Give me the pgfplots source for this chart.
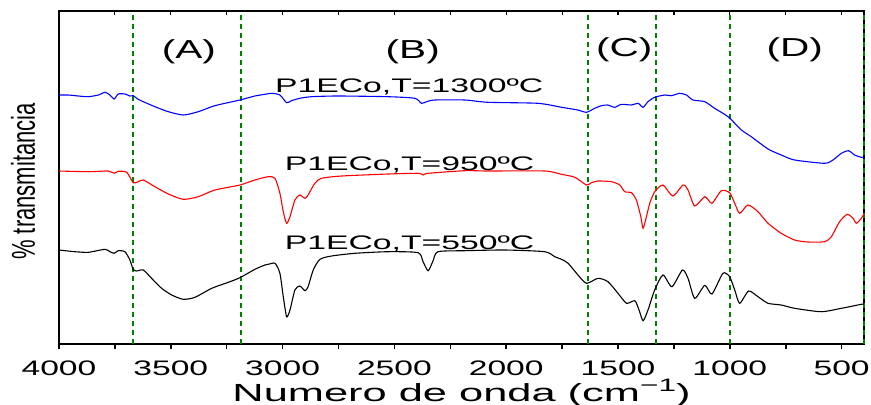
\documentclass[border=0pt]{standalone}
\usepackage{fontspec}
\setmainfont{Liberation Sans}
\usepackage{pgfplots}
\pgfplotsset{compat=1.18}
\definecolor{vgreen}{RGB}{0,128,0}
% text in the reference is stretched sideways
\newcommand{\tk}[1]{\scalebox{1.6}[1]{#1}}
\newcommand{\lab}[1]{\scalebox{1.72}[1]{\fontsize{9.8}{11}\selectfont #1}}
\newcommand{\reg}[1]{\scalebox{1.56}[1]{\fontsize{13}{15}\selectfont #1}}

\begin{document}
\begin{tikzpicture}
\begin{axis}[
    width=402.5pt, height=166.5pt, scale only axis,
    xmin=400, xmax=4000, x dir=reverse,
    ymin=0, ymax=333,
    clip=false,
    axis line style={line width=1pt},
    ytick=\empty,
    xtick={500,1000,1500,2000,2500,3000,3500,4000},
    xticklabels={\tk{500},\tk{1000},\tk{1500},\tk{2000},\tk{2500},\tk{3000},\tk{3500},\tk{4000}},
    minor x tick num=1,
    xtick pos=bottom, tick align=outside,
    major tick length=2.5pt, minor tick length=2.5pt,
    tick style={line width=0.8pt, black},
    xticklabel style={font=\fontsize{10.5}{12}\selectfont, anchor=base, yshift=-13.3pt},
]
% region borders
\addplot[vgreen, line width=1pt, dash pattern=on 2.5pt off 2pt] coordinates {(3670,0) (3670,333)};
\addplot[vgreen, line width=1pt, dash pattern=on 2.5pt off 2pt] coordinates {(3186,0) (3186,333)};
\addplot[vgreen, line width=1pt, dash pattern=on 2.5pt off 2pt] coordinates {(1635,0) (1635,333)};
\addplot[vgreen, line width=1pt, dash pattern=on 2.5pt off 2pt] coordinates {(1331,0) (1331,333)};
\addplot[vgreen, line width=1pt, dash pattern=on 2.5pt off 2pt] coordinates {(1001,0) (1001,333)};
\addplot[vgreen, line width=1pt, dash pattern=on 2.5pt off 2pt] coordinates {(402,0) (402,333)};

% T = 1300 C
\addplot[blue, line width=0.55pt, smooth, tension=0.4] coordinates {
(4000,249) (3958,249) (3914,248) (3869,247.3) (3824,249) (3794,251.7) (3772,249) (3753,245) (3735,250) (3705,250)
(3683,248) (3668,248.3) (3646,244.7) (3623,242.3) (3571,237.3) (3511,232.3) (3444,229) (3377,232.3) (3303,238.3)
(3191,244) (3124,248) (3079,249.7) (3049,250.7) (3012,249) (2982,241.3) (2960,243.3) (2923,245.7) (2870,247.3)
(2753,248) (2529,247.3) (2409,245.7) (2379,240.7) (2356,242.3) (2319,244) (2185,244) (2082,241.7) (1859,240.7)
(1752,236.7) (1680,234) (1641,231.7) (1604,235.7) (1574,238.3) (1546,239) (1515,236.7) (1485,239.7) (1440,239)
(1410,240.7) (1388,236.7) (1366,242.3) (1336,246.7) (1291,249) (1261,248.3) (1224,250.7) (1194,249) (1165,244)
(1112,242.3) (1068,235.7) (1008,227.3) (948,214) (904,207.3) (829,195) (770,189) (710,184) (576,180.7) (539,184)
(501,190.7) (469,193.3) (442,189) (412,186.7) (400,186.5)
};
% T = 950 C
\addplot[red, line width=0.55pt, smooth, tension=0.4] coordinates {
(4000,173) (3869,172.3) (3780,173) (3753,170.7) (3735,172.7) (3697,171.7) (3668,161.3) (3646,162.3) (3623,164)
(3571,157.3) (3511,150) (3444,144.7) (3377,147.3) (3303,154) (3191,159) (3124,164) (3064,167.3) (3034,165.7)
(3012,150.7) (2997,132.3) (2982,120.7) (2967,127.3) (2945,144) (2923,149) (2900,145.7) (2886,149) (2856,160.7)
(2826,165.7) (2736,168) (2528,170) (2394,170.7) (2372,169) (2349,170.7) (2185,173.3) (2081,173) (1828,173)
(1753,169.7) (1693,166.7) (1641,159) (1619,161.3) (1589,163) (1529,162.3) (1492,159) (1470,152.3) (1440,151.3)
(1418,144) (1398,127.3) (1388,115.7) (1373,127.3) (1358,140.7) (1336,152.3) (1299,159) (1255,148) (1209,159)
(1187,154) (1157,138) (1112,147.3) (1080,140.7) (1038,153.3) (1001,151.3) (978,140.7) (956,130.7) (919,139)
(874,132.3) (829,120.7) (770,110.7) (710,104) (651,102) (576,102.3) (546,107.3) (509,122.3) (475,129.7)
(449,125.7) (434,120.7) (412,125.7) (400,130)
};
% T = 550 C
\addplot[black, line width=0.55pt, smooth, tension=0.4] coordinates {
(4000,94) (3928,92.3) (3869,91.7) (3794,94.7) (3772,92.3) (3753,90.7) (3735,93.3) (3705,92.3) (3683,84) (3668,74.7)
(3653,73) (3623,74) (3586,65.7) (3541,55.7) (3496,49) (3444,44.7) (3392,46.7) (3317,55.7) (3243,61.7) (3191,66.3)
(3124,74.7) (3079,79) (3064,79.7) (3034,80.7) (3012,70.7) (2997,47.3) (2982,27.3) (2967,34) (2945,54) (2923,58)
(2900,53.3) (2886,57.3) (2863,74) (2833,84.7) (2781,88) (2677,90.7) (2528,92.3) (2394,91.3) (2372,82.3) (2349,73.3)
(2327,83.3) (2305,92.3) (2185,93.3) (2006,94) (1828,92.3) (1783,87.3) (1753,84.7) (1723,80.7) (1679,69) (1641,60.7)
(1589,65.7) (1545,62.3) (1500,50.7) (1462,40.7) (1425,43.3) (1406,34) (1388,23.3) (1366,34) (1336,54) (1299,69)
(1259,57.3) (1212,74) (1187,65.7) (1157,45.7) (1112,58.7) (1080,50) (1031,70.7) (1001,67.3) (978,54) (956,40.7)
(916,53) (874,47.3) (829,40.7) (770,39) (710,35.7) (591,32.3) (501,35.7) (412,39.7) (400,40)
};

\node[anchor=base] at (axis cs:3419,285) {\reg{(A)}};
\node[anchor=base] at (axis cs:2418,285) {\reg{(B)}};
\node[anchor=base] at (axis cs:1472,287) {\reg{(C)}};
\node[anchor=base] at (axis cs:710,287) {\reg{(D)}};

\node[anchor=base] at (axis cs:2434,251.7) {\lab{P1ECo,T=1300ºC}};
\node[anchor=base] at (axis cs:2432,174) {\lab{P1ECo,T=950ºC}};
\node[anchor=base] at (axis cs:2432,94.7) {\lab{P1ECo,T=550ºC}};

\node[anchor=base] at ([yshift=-28.85pt]rel axis cs:0.5,0)
  {\scalebox{1.75}[1]{\fontsize{12.4}{14}\selectfont Numero de onda (cm\raisebox{5pt}{\fontsize{9}{9}\selectfont −1})}};
\node[anchor=base, rotate=90] at ([xshift=-12pt,yshift=-2pt]rel axis cs:0,0.5)
  {\scalebox{1}[1.5]{\fontsize{11}{13}\selectfont \% transmitancia}};

\coordinate (sw) at (rel axis cs:0,0);
\coordinate (ne) at (rel axis cs:1,1);
\end{axis}
% small inward ticks on the top edge
\begin{axis}[
    width=402.5pt, height=166.5pt, scale only axis,
    xmin=400, xmax=4000, x dir=reverse,
    ymin=0, ymax=333,
    axis x line*=top, hide y axis,
    axis line style={line width=1pt},
    xtick={500,1000,1500,2000,2500,3000,3500,4000},
    xticklabels={},
    minor x tick num=1,
    tick align=inside,
    major tick length=2pt, minor tick length=2pt,
    tick style={line width=0.6pt, black},
]
\end{axis}
\pgfresetboundingbox
\path ([shift={(-29.5pt,-30pt)}]sw) rectangle ([shift={(3.5pt,5.5pt)}]ne);
\end{tikzpicture}
\end{document}
